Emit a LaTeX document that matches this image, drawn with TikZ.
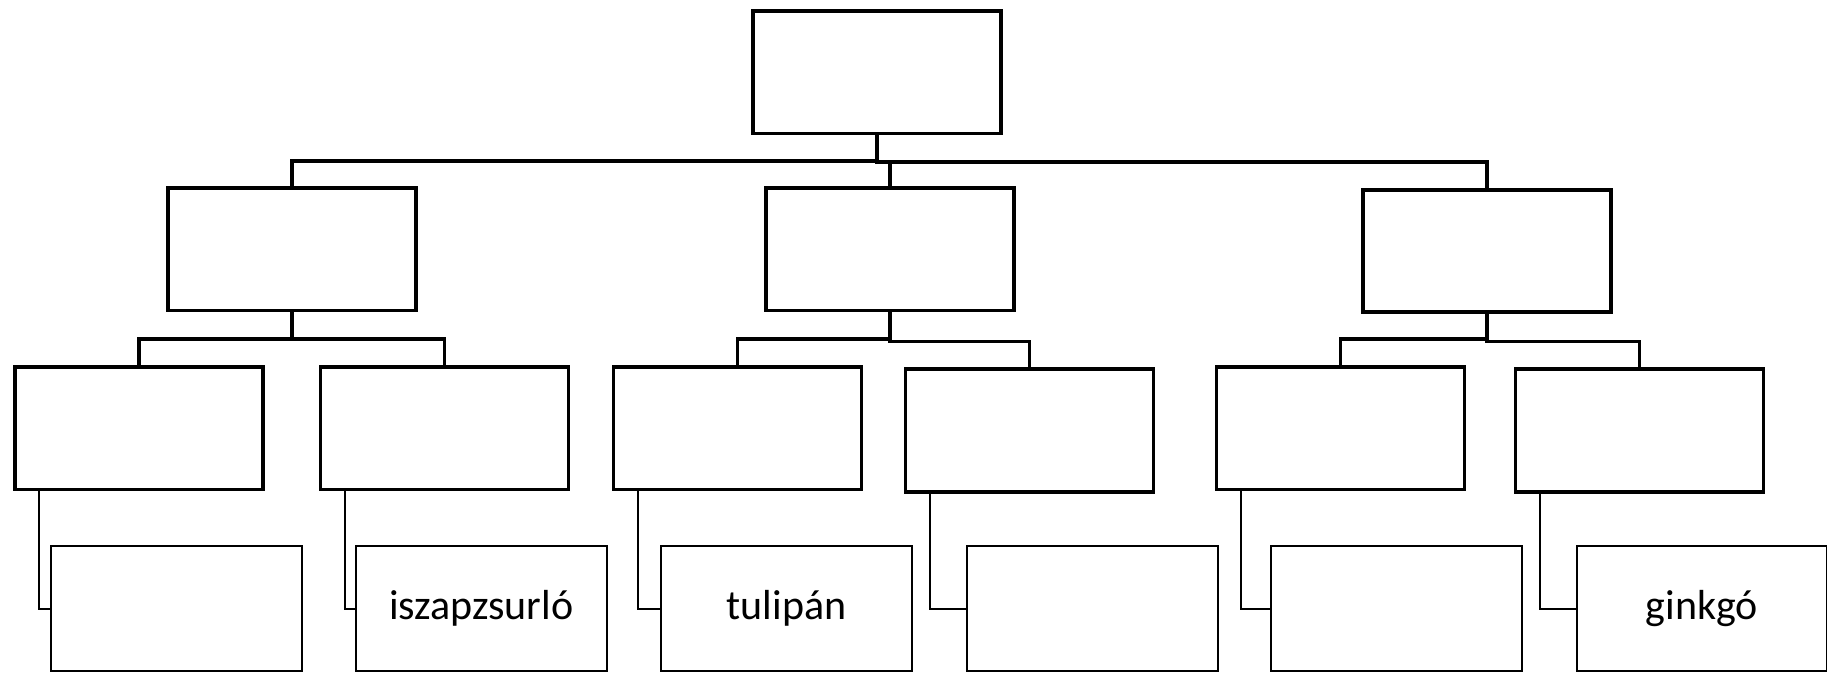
\documentclass[tikz,border=0pt]{standalone}
\usepackage{fontspec}
\setmainfont{Carlito}
\begin{document}
\begin{tikzpicture}[x=1pt,y=-1pt,
  thickbox/.style={draw=black,line width=3.8pt,minimum width=248pt,minimum height=122.5pt,inner sep=0pt,outer sep=0pt},
  thinbox/.style={draw=black,line width=2pt,minimum width=250.7pt,minimum height=124.7pt,inner sep=0pt,outer sep=0pt,font=\fontsize{42}{50}\selectfont},
  thickcon/.style={draw=black,line width=3.8pt},
  thincon/.style={draw=black,line width=2pt}]
\clip (0,0) rectangle (1827,672);
% level 1
\node[thickbox] (top) at (877,72.2) {};
% level 2
\node[thickbox] (L) at (291.8,249.2) {};
\node[thickbox] (M) at (890.2,249.3) {};
\node[thickbox] (R) at (1486.8,251.1) {};
% level 3
\node[thickbox] (c1) at (139.2,428.2) {};
\node[thickbox] (c2) at (444.5,428.2) {};
\node[thickbox] (c3) at (737.5,428.2) {};
\node[thickbox] (c4) at (1029.5,430.5) {};
\node[thickbox] (c5) at (1340.5,428.2) {};
\node[thickbox] (c6) at (1639.5,430.5) {};
% level 4
\node[thinbox] (d1) at (176.5,608.6) {};
\node[thinbox] (d2) at (481.2,608.6) {iszapzsurló};
\node[thinbox] (d3) at (786.5,608.6) {tulipán};
\node[thinbox] (d4) at (1092.4,608.6) {};
\node[thinbox] (d5) at (1396.5,608.6) {};
\node[thinbox] (d6) at (1701.9,608.6) {ginkgó};
% junction levels
\coordinate (jtl) at (0,160.7);
\coordinate (jtm) at (0,161.5);
\coordinate (jtr) at (0,162.3);
\coordinate (jl) at (0,339.3);
\coordinate (jr) at (0,341.4);
% level 1 -> 2
\draw[thickcon] (top.south) -- (top.south |- jtl) -| (L.north);
\draw[thickcon] (top.south) -- (top.south |- jtm) -| (M.north);
\draw[thickcon] (top.south) -- (top.south |- jtr) -| (R.north);
% level 2 -> 3
\draw[thickcon] (L.south) -- (L.south |- jl) -| (c1.north);
\draw[thickcon] (L.south) -- (L.south |- jl) -| (c2.north);
\draw[thickcon] (M.south) -- (M.south |- jl) -| (c3.north);
\draw[thickcon] (M.south) -- (M.south |- jr) -| (c4.north);
\draw[thickcon] (R.south) -- (R.south |- jl) -| (c5.north);
\draw[thickcon] (R.south) -- (R.south |- jr) -| (c6.north);
% level 3 -> 4
\draw[thincon] ([xshift=24pt]c1.south west) |- (d1.west);
\draw[thincon] ([xshift=24pt]c2.south west) |- (d2.west);
\draw[thincon] ([xshift=24pt]c3.south west) |- (d3.west);
\draw[thincon] ([xshift=24pt]c4.south west) |- (d4.west);
\draw[thincon] ([xshift=24pt]c5.south west) |- (d5.west);
\draw[thincon] ([xshift=24pt]c6.south west) |- (d6.west);
\end{tikzpicture}
\end{document}
